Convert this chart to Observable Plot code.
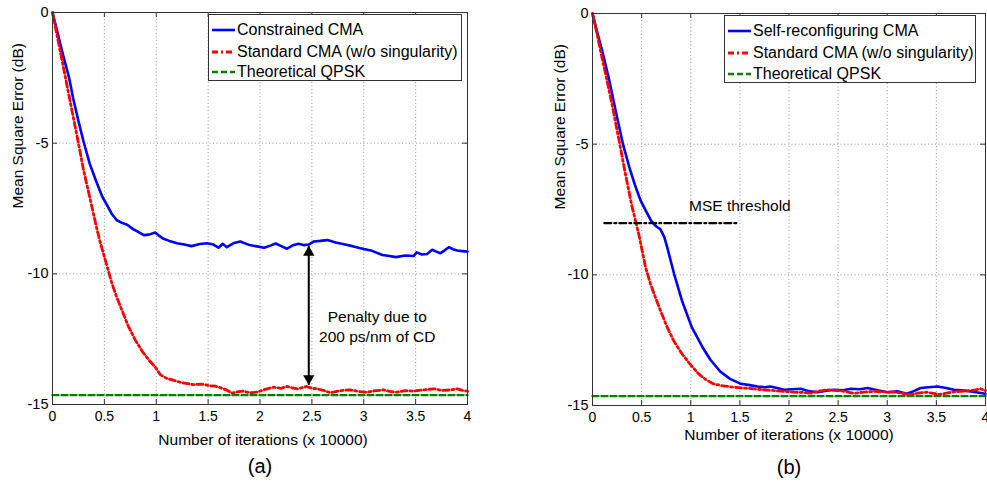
<!DOCTYPE html>
<html><head><meta charset="utf-8">
<script src="https://cdn.jsdelivr.net/npm/d3@7"></script>
<script src="https://cdn.jsdelivr.net/npm/@observablehq/plot@0.6"></script>
<style>
body{margin:0;background:#fff;}
#wrap{position:relative;width:987px;height:487px;font-family:"Liberation Sans",Arial,sans-serif;background:#fff;overflow:hidden}
.panel{position:absolute;top:0}
.legend{position:absolute;background:#fff;border:1px solid #333;box-sizing:border-box}
.legend .row{position:absolute;left:0;height:20px;display:flex;align-items:center;font-size:16px;white-space:nowrap;color:#000}
.legend svg{margin-left:3px;margin-right:2px}
</style></head><body><div id="wrap"></div>
<script>
// ---- Data (iterations x 10000, MSE in dB) ----
const xTicks = [0, 0.5, 1, 1.5, 2, 2.5, 3, 3.5, 4];
const yTicks = [0, -5, -10, -15];
const xLabel = "Number of iterations (x 10000)";
const yLabel = "Mean Square Error (dB)";

const constrainedCMA = [[0,0],[0.05,-0.8],[0.1,-1.6],[0.16,-2.5],[0.2,-3.3],[0.25,-4.15],[0.3,-4.95],[0.36,-5.8],[0.42,-6.45],[0.48,-7.05],[0.53,-7.4],[0.57,-7.7],[0.62,-7.95],[0.67,-8.05],[0.72,-8.12],[0.78,-8.3],[0.83,-8.4],[0.88,-8.52],[0.93,-8.5],[0.99,-8.42],[1.03,-8.55],[1.07,-8.66],[1.12,-8.73],[1.2,-8.83],[1.27,-8.88],[1.34,-8.94],[1.42,-8.86],[1.49,-8.83],[1.55,-8.88],[1.6,-9.0],[1.64,-8.85],[1.68,-8.98],[1.75,-8.82],[1.81,-8.76],[1.9,-8.9],[1.97,-8.95],[2.04,-9.0],[2.1,-8.92],[2.15,-8.84],[2.21,-8.95],[2.26,-9.04],[2.31,-8.92],[2.37,-8.85],[2.42,-8.9],[2.47,-8.88],[2.52,-8.76],[2.58,-8.74],[2.65,-8.71],[2.73,-8.8],[2.82,-8.88],[2.9,-8.95],[3.0,-9.05],[3.08,-9.12],[3.18,-9.28],[3.25,-9.32],[3.31,-9.36],[3.4,-9.3],[3.48,-9.32],[3.51,-9.18],[3.56,-9.26],[3.61,-9.24],[3.66,-9.08],[3.7,-9.15],[3.74,-9.21],[3.78,-9.1],[3.82,-8.98],[3.86,-9.06],[3.9,-9.11],[3.95,-9.13],[4.0,-9.15]];
const standardCMA_a = [[0,0],[0.05,-1.0],[0.1,-2.0],[0.15,-3.0],[0.2,-4.0],[0.25,-5.0],[0.3,-6.05],[0.366,-7.19],[0.42,-8.15],[0.46,-8.8],[0.51,-9.49],[0.575,-10.4],[0.62,-10.9],[0.67,-11.4],[0.73,-12.0],[0.8,-12.55],[0.87,-13.0],[0.93,-13.3],[0.99,-13.57],[1.04,-13.86],[1.1,-14.0],[1.17,-14.08],[1.25,-14.17],[1.36,-14.24],[1.44,-14.22],[1.51,-14.28],[1.57,-14.3],[1.62,-14.36],[1.68,-14.45],[1.73,-14.57],[1.78,-14.52],[1.84,-14.49],[1.9,-14.55],[1.97,-14.53],[2.05,-14.42],[2.13,-14.34],[2.2,-14.38],[2.26,-14.31],[2.31,-14.36],[2.36,-14.4],[2.41,-14.35],[2.45,-14.31],[2.5,-14.38],[2.55,-14.4],[2.61,-14.46],[2.68,-14.55],[2.74,-14.5],[2.8,-14.46],[2.87,-14.44],[2.95,-14.5],[3.03,-14.53],[3.1,-14.48],[3.19,-14.44],[3.25,-14.5],[3.32,-14.53],[3.4,-14.47],[3.48,-14.49],[3.55,-14.45],[3.62,-14.42],[3.68,-14.4],[3.75,-14.46],[3.84,-14.44],[3.9,-14.4],[3.95,-14.46],[4.0,-14.49]];
const selfReconfCMA = [[0,0],[0.05,-0.75],[0.1,-1.45],[0.17,-2.55],[0.24,-3.8],[0.31,-5.0],[0.38,-5.95],[0.44,-6.65],[0.49,-7.16],[0.55,-7.6],[0.6,-7.95],[0.65,-8.15],[0.69,-8.25],[0.73,-8.55],[0.76,-8.94],[0.83,-9.96],[0.91,-10.98],[1.01,-12.0],[1.12,-12.77],[1.2,-13.25],[1.3,-13.7],[1.4,-13.98],[1.51,-14.17],[1.6,-14.22],[1.68,-14.27],[1.75,-14.3],[1.81,-14.27],[1.88,-14.33],[1.95,-14.4],[2.03,-14.38],[2.12,-14.36],[2.2,-14.45],[2.29,-14.49],[2.38,-14.43],[2.46,-14.4],[2.55,-14.42],[2.63,-14.36],[2.72,-14.38],[2.8,-14.33],[2.9,-14.42],[3.0,-14.49],[3.1,-14.46],[3.2,-14.55],[3.27,-14.45],[3.34,-14.33],[3.42,-14.3],[3.51,-14.27],[3.6,-14.33],[3.68,-14.4],[3.76,-14.42],[3.85,-14.46],[3.92,-14.5],[4.0,-14.55]];
const standardCMA_b = [[0,0],[0.05,-0.85],[0.1,-1.75],[0.15,-2.6],[0.2,-3.5],[0.27,-4.85],[0.33,-6.05],[0.4,-7.35],[0.47,-8.43],[0.54,-9.71],[0.59,-10.35],[0.64,-10.86],[0.7,-11.45],[0.76,-12.0],[0.83,-12.55],[0.91,-13.02],[1.0,-13.45],[1.08,-13.79],[1.15,-14.0],[1.23,-14.17],[1.33,-14.25],[1.44,-14.3],[1.54,-14.33],[1.64,-14.36],[1.74,-14.4],[1.85,-14.43],[1.95,-14.46],[2.05,-14.49],[2.14,-14.5],[2.22,-14.53],[2.3,-14.45],[2.38,-14.4],[2.45,-14.42],[2.52,-14.43],[2.59,-14.48],[2.66,-14.53],[2.76,-14.49],[2.86,-14.46],[2.96,-14.48],[3.07,-14.49],[3.15,-14.53],[3.23,-14.58],[3.31,-14.53],[3.4,-14.49],[3.47,-14.54],[3.53,-14.58],[3.6,-14.53],[3.67,-14.48],[3.74,-14.46],[3.82,-14.44],[3.9,-14.4],[3.95,-14.36],[4.0,-14.43]];
const theoreticalQPSK = [[0,-14.64],[4,-14.64]];
const mseThreshold = [[0.12,-8.02],[1.49,-8.02]];
const mseThresholdLabel = [{x: 1.5, y: -7.35, text: "MSE threshold"}];
const penaltyArrow = [{x: 2.47, top: -8.93, bottom: -14.25}];
const penaltyLabel = [{x: 3.13, y: -11.98, text: "Penalty due to\n200 ps/nm of CD"}];

const seriesStyle = {
  blue: {stroke: "#0000ff", strokeWidth: 2.6},
  red: {stroke: "#ff0000", strokeWidth: 2.8, strokeDasharray: "6,3,2,3"},
  green: {stroke: "#008000", strokeWidth: 2.4, strokeDasharray: "6,3"}
};

const panelA = {
  left: 0, width: 490, marginLeft: 52, marginRight: 23, marginTop: 12, marginBottom: 83,
  caption: "(a)", xLabelDy: 40, xLabelDx: 3, yLabelDx: -34, captionDy: 68,
  series: [
    {name: "Constrained CMA", data: constrainedCMA, style: "blue"},
    {name: "Standard CMA (w/o singularity)", data: standardCMA_a, style: "red"},
    {name: "Theoretical QPSK", data: theoreticalQPSK, style: "green"}
  ],
  legend: {left: 208, top: 14, width: 254, height: 67, rows: [5, 27, 47]}
};
const panelB = {
  left: 490, width: 497, marginLeft: 102, marginRight: 2, marginTop: 13, marginBottom: 82,
  caption: "(b)", xLabelDy: 34, xLabelDx: 0, yLabelDx: -32, captionDy: 68,
  series: [
    {name: "Self-reconfiguring CMA", data: selfReconfCMA, style: "blue"},
    {name: "Standard CMA (w/o singularity)", data: standardCMA_b, style: "red"},
    {name: "Theoretical QPSK", data: theoreticalQPSK, style: "green"}
  ],
  legend: {left: 724, top: 15, width: 252, height: 68, rows: [5, 27, 48]}
};

const wrap = document.getElementById("wrap");

function buildPanel(p, extraMarks) {
  const height = 487;
  const ph = height - p.marginTop - p.marginBottom;
  const pw = p.width - p.marginLeft - p.marginRight;
  const gridStyle = {stroke: "#9a9a9a", strokeOpacity: 1, strokeDasharray: "1,2.5", strokeWidth: 1};
  const tickStyle = {stroke: "#333", strokeWidth: 1};
  const marks = [
    Plot.gridX(xTicks, gridStyle),
    Plot.gridY(yTicks, gridStyle),
    Plot.tickX(xTicks, {x: d => d, insetTop: ph - 5, ...tickStyle}),
    Plot.tickX(xTicks, {x: d => d, insetBottom: ph - 5, ...tickStyle}),
    Plot.tickY(yTicks, {y: d => d, insetRight: pw - 5, ...tickStyle}),
    Plot.tickY(yTicks, {y: d => d, insetLeft: pw - 5, ...tickStyle}),
    Plot.axisX(xTicks, {tickSize: 0, tickPadding: 7, tickFormat: d => String(d), label: null, fontSize: 14}),
    Plot.axisY(yTicks, {tickSize: 0, tickPadding: 4, tickFormat: d => String(d), label: null, fontSize: 14.5}),
    ...p.series.map(s => Plot.line(s.data, {x: d => d[0], y: d => d[1], ...seriesStyle[s.style]})),
    ...extraMarks,
    Plot.frame({stroke: "#333", strokeWidth: 1}),
    Plot.text([xLabel], {frameAnchor: "bottom", dy: p.xLabelDy, dx: p.xLabelDx, text: d => d, fontSize: 15.5, fill: "#000"}),
    Plot.text([yLabel], {frameAnchor: "left", dx: p.yLabelDx, rotate: -90, text: d => d, fontSize: 15.5, fill: "#000"}),
    Plot.text([p.caption], {frameAnchor: "bottom", dy: p.captionDy, text: d => d, fontSize: 20, fill: "#000"})
  ];
  const svg = Plot.plot({
    width: p.width, height,
    marginLeft: p.marginLeft, marginRight: p.marginRight, marginTop: p.marginTop, marginBottom: p.marginBottom,
    x: {domain: [0, 4]},
    y: {domain: [-15, 0]},
    style: {fontFamily: "'Liberation Sans', Arial, sans-serif", fontSize: "14.5px", background: "transparent", color: "#000", overflow: "visible"},
    marks
  });
  const div = document.createElement("div");
  div.className = "panel";
  div.style.left = p.left + "px";
  div.appendChild(svg);
  wrap.appendChild(div);

  // legend
  const lg = document.createElement("div");
  lg.className = "legend";
  Object.assign(lg.style, {left: p.legend.left + "px", top: p.legend.top + "px", width: p.legend.width + "px", height: p.legend.height + "px"});
  p.series.forEach((s, i) => {
    const st = seriesStyle[s.style];
    const row = document.createElement("div");
    row.className = "row";
    row.style.top = p.legend.rows[i] + "px";
    row.innerHTML = `<svg width="23" height="6"><line x1="0" x2="23" y1="3" y2="3" stroke="${st.stroke}" stroke-width="${st.strokeWidth}" ${st.strokeDasharray ? `stroke-dasharray="${st.strokeDasharray}"` : ""}/></svg><span>${s.name}</span>`;
    lg.appendChild(row);
  });
  wrap.appendChild(lg);
}

buildPanel(panelA, [
  Plot.link(penaltyArrow, {x1: d => d.x, x2: d => d.x, y1: d => d.top, y2: d => d.bottom, stroke: "#000", strokeWidth: 2}),
  Plot.dot(penaltyArrow, {x: d => d.x, y: d => d.top, symbol: "triangle", r: 4.2, fill: "#000", stroke: "none", dy: 6.5}),
  Plot.dot(penaltyArrow, {x: d => d.x, y: d => d.bottom, symbol: "triangle", r: 4.2, fill: "#000", stroke: "none", rotate: 180, dy: -6.5}),
  Plot.text(penaltyLabel, {x: d => d.x, y: d => d.y, text: d => d.text, fontSize: 15.5, lineHeight: 1.3, fill: "#000"})
]);
buildPanel(panelB, [
  Plot.line(mseThreshold, {x: d => d[0], y: d => d[1], stroke: "#000", strokeWidth: 2.2, strokeDasharray: "7,3,2,3"}),
  Plot.text(mseThresholdLabel, {x: d => d.x, y: d => d.y, text: d => d.text, fontSize: 15.5, fill: "#000"})
]);
</script></body></html>
